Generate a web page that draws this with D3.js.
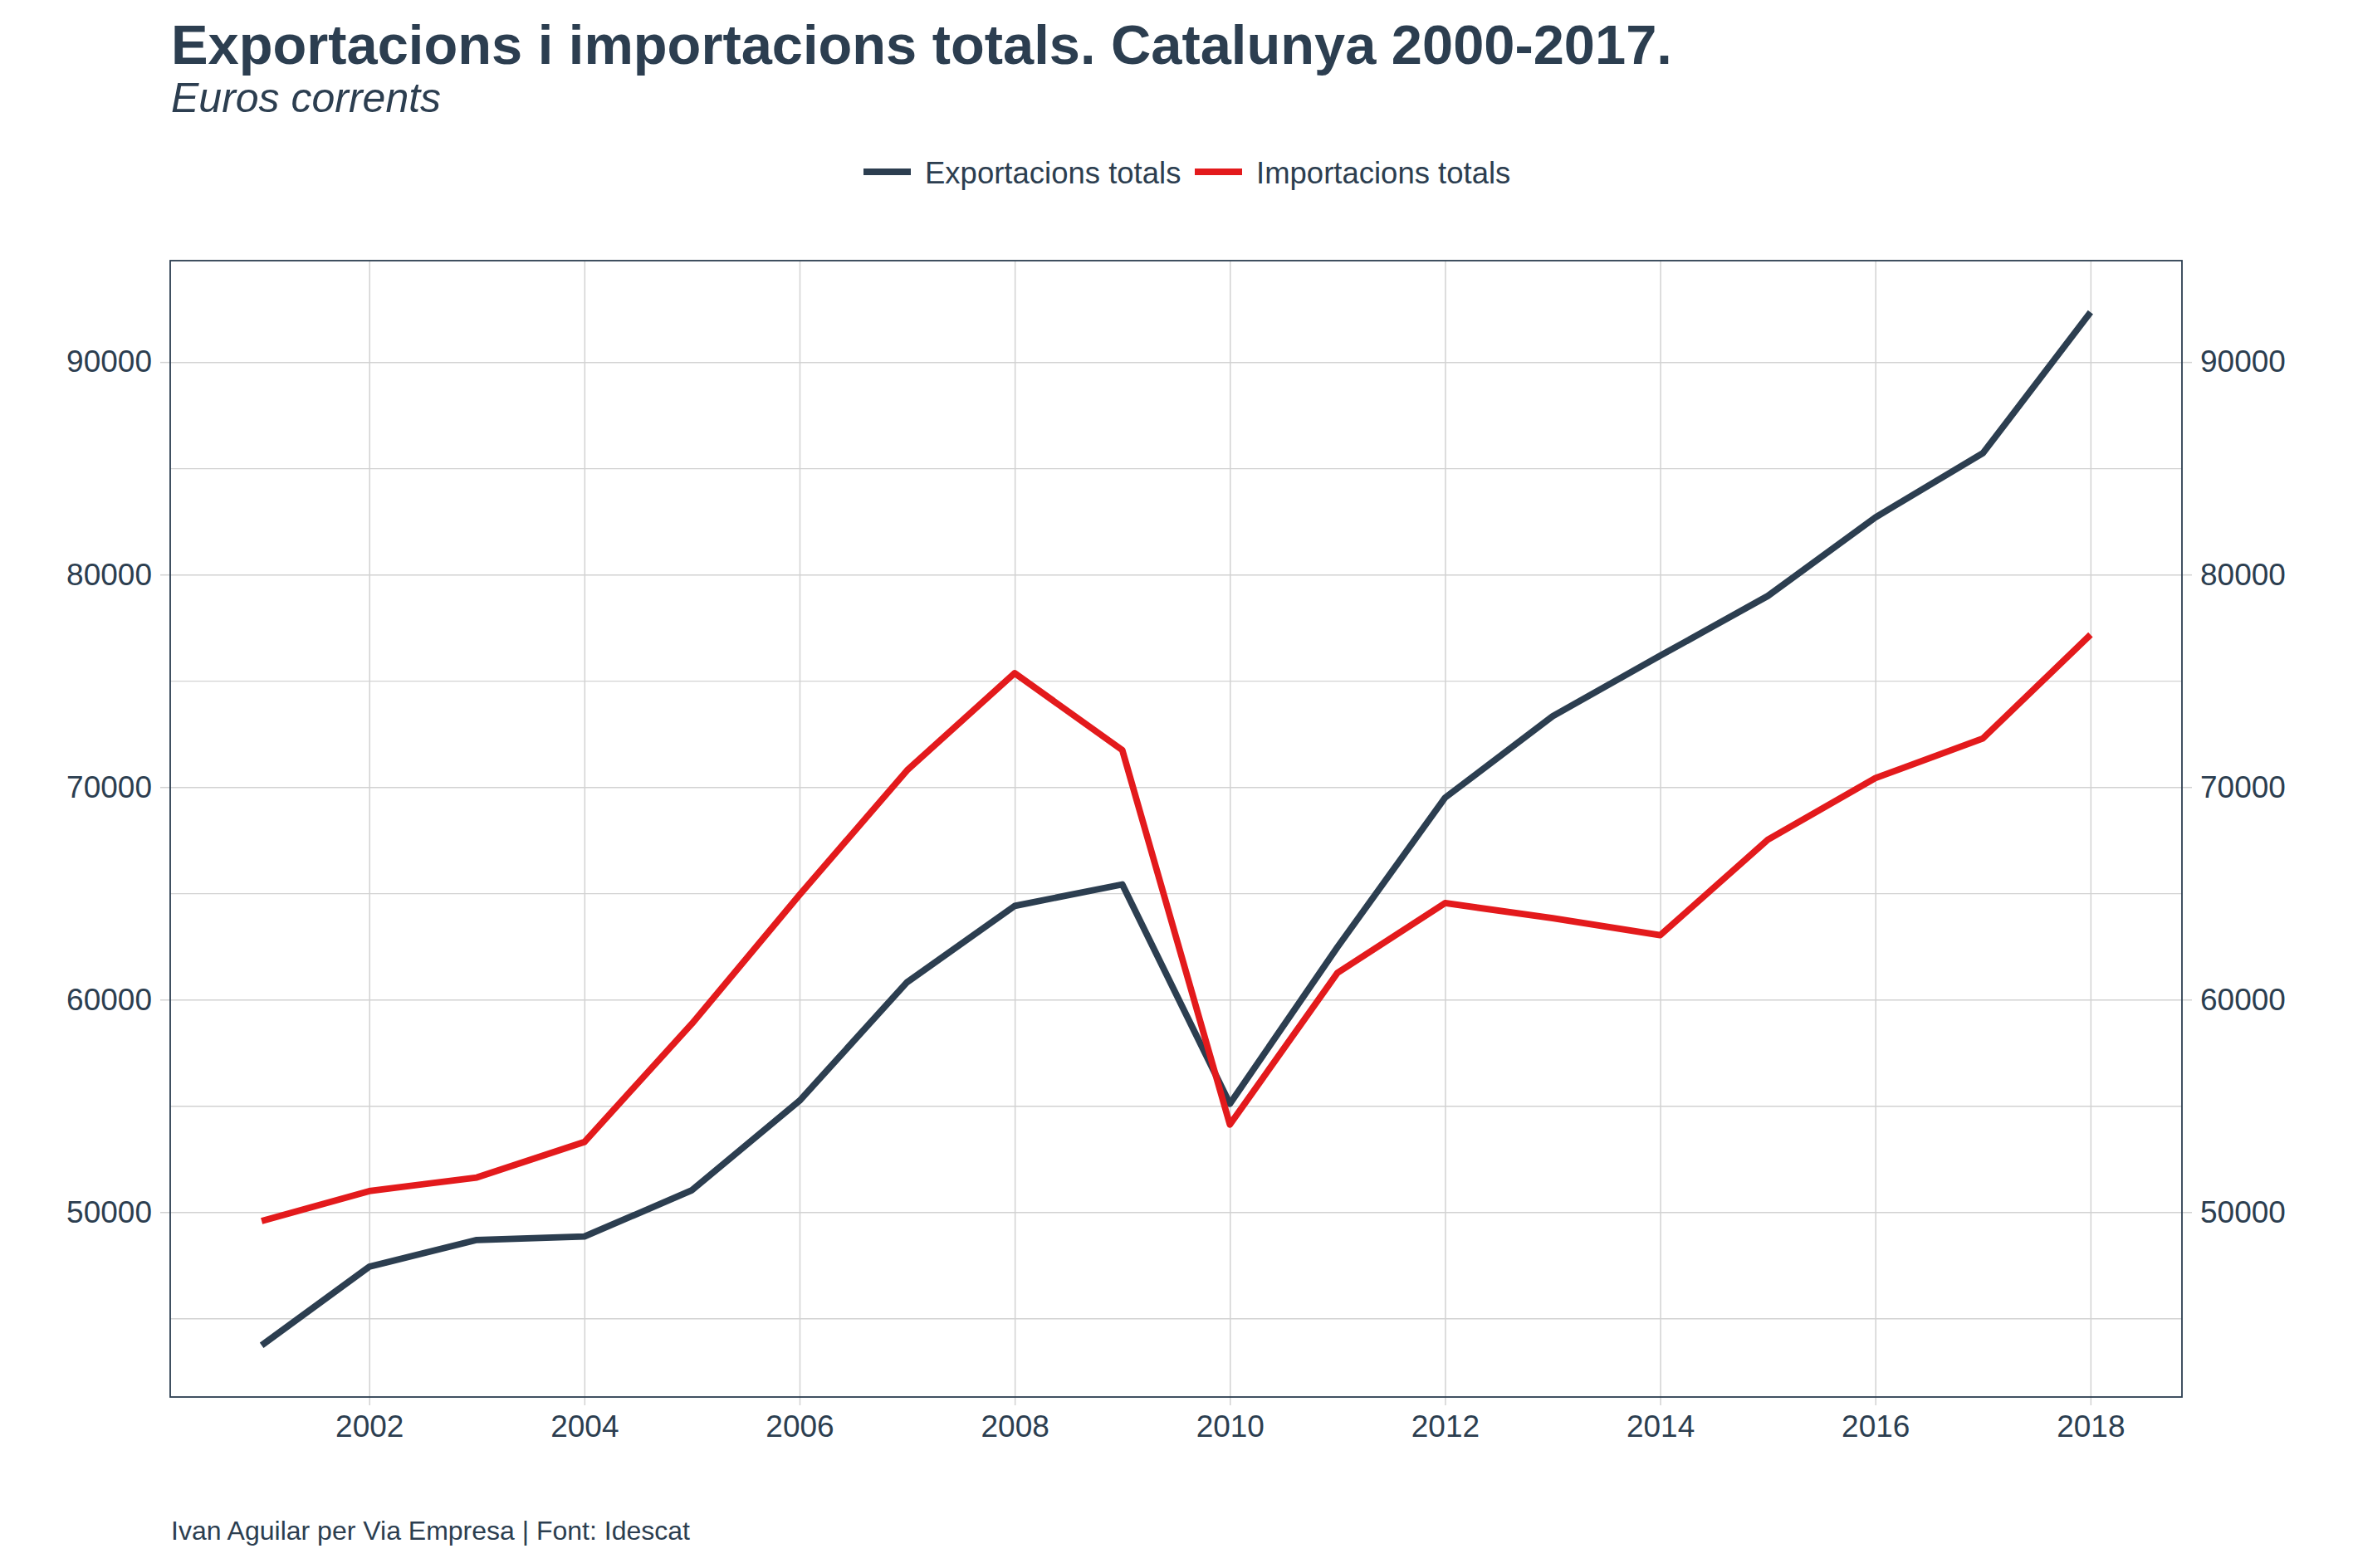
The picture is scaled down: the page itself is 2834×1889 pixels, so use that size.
<!DOCTYPE html>
<html>
<head>
<meta charset="utf-8">
<script src="https://cdn.jsdelivr.net/npm/d3@7"></script>
<style>
  html, body { margin: 0; padding: 0; background: #ffffff; }
  svg { display: block; }
  text { font-family: "Liberation Sans", Arial, Helvetica, sans-serif; fill: #2c3e50; }
</style>
</head>
<body>
<script>
// ---- data ----
const years = [2001, 2002, 2003, 2004, 2005, 2006, 2007, 2008, 2009, 2010, 2011, 2012, 2013, 2014, 2015, 2016, 2017, 2018];
const exportacions = [43730, 47430, 48690, 48850, 51030, 55240, 60820, 64410, 65420, 55100, 62470, 69500, 73330, 76180, 78990, 82690, 85710, 92340];
const importacions = [49580, 50990, 51630, 53300, 58870, 64930, 70790, 75360, 71740, 54120, 61260, 64540, 63830, 63030, 67520, 70420, 72290, 77170];
const seriesNames = ["Exportacions totals", "Importacions totals"];
const seriesColors = ["#2c3e50", "#e31a1c"];
const xTicks = [2002, 2004, 2006, 2008, 2010, 2012, 2014, 2016, 2018];
const yMajorTicks = [50000, 60000, 70000, 80000, 90000];
const yMinorTicks = [45000, 55000, 65000, 75000, 85000];
const titleText = "Exportacions i importacions totals. Catalunya 2000-2017.";
const subtitleText = "Euros corrents";
const captionText = "Ivan Aguilar per Via Empresa | Font: Idescat";

// ---- layout ----
const W = 2834, H = 1889;
const panel = { left: 205, top: 314, right: 2628, bottom: 1683 };
const textColor = "#2c3e50";
const gridColor = "#d2d2d2";

const svg = d3.select("body").append("svg").attr("width", W).attr("height", H);
svg.append("rect").attr("width", W).attr("height", H).attr("fill", "#fff");

// scales with 5% expansion (ggplot style)
const xExt = d3.extent(years);
const xPad = (xExt[1] - xExt[0]) * 0.05;
const x = d3.scaleLinear().domain([xExt[0] - xPad, xExt[1] + xPad]).range([panel.left, panel.right]);
const yExt = d3.extent(exportacions.concat(importacions));
const yPad = (yExt[1] - yExt[0]) * 0.05;
const y = d3.scaleLinear().domain([yExt[0] - yPad, yExt[1] + yPad]).range([panel.bottom, panel.top]);

const pw = panel.right - panel.left, ph = panel.bottom - panel.top;

// minor horizontal grid
svg.append("g").attr("transform", `translate(${panel.left},0)`)
  .call(d3.axisLeft(y).tickValues(yMinorTicks).tickSize(-pw).tickFormat(""))
  .call(g => g.select(".domain").remove())
  .call(g => g.selectAll("line").attr("stroke", gridColor).attr("stroke-width", 1.3));

// major horizontal grid
svg.append("g").attr("transform", `translate(${panel.left},0)`)
  .call(d3.axisLeft(y).tickValues(yMajorTicks).tickSize(-pw).tickFormat(""))
  .call(g => g.select(".domain").remove())
  .call(g => g.selectAll("line").attr("stroke", gridColor).attr("stroke-width", 1.5));

// vertical grid
svg.append("g").attr("transform", `translate(0,${panel.bottom})`)
  .call(d3.axisBottom(x).tickValues(xTicks).tickSize(-ph).tickFormat(""))
  .call(g => g.select(".domain").remove())
  .call(g => g.selectAll("line").attr("stroke", gridColor).attr("stroke-width", 1.5));

// axes with labels
function styleAxis(g) {
  g.select(".domain").remove();
  g.selectAll("line").attr("stroke", gridColor).attr("stroke-width", 1.5);
  g.selectAll("text").attr("fill", textColor).style("font-size", "37px")
    .style("font-family", '"Liberation Sans", Arial, sans-serif');
}
svg.append("g").attr("transform", `translate(${panel.left},0)`)
  .call(d3.axisLeft(y).tickValues(yMajorTicks).tickSize(12).tickPadding(10).tickFormat(d3.format("d")))
  .call(styleAxis);
svg.append("g").attr("transform", `translate(${panel.right},0)`)
  .call(d3.axisRight(y).tickValues(yMajorTicks).tickSize(12).tickPadding(10).tickFormat(d3.format("d")))
  .call(styleAxis);
svg.append("g").attr("transform", `translate(0,${panel.bottom})`)
  .call(d3.axisBottom(x).tickValues(xTicks).tickSize(10).tickPadding(12).tickFormat(d3.format("d")))
  .call(styleAxis);

// panel border
svg.append("rect")
  .attr("x", panel.left).attr("y", panel.top)
  .attr("width", pw).attr("height", ph)
  .attr("fill", "none").attr("stroke", "#2c3e50").attr("stroke-width", 1.8);

// lines
const lineGen = d3.line().x((d, i) => x(years[i])).y(d => y(d));
const allSeries = [exportacions, importacions];
allSeries.forEach((s, k) => {
  svg.append("path").datum(s)
    .attr("d", lineGen)
    .attr("fill", "none")
    .attr("stroke", seriesColors[k])
    .attr("stroke-width", 7.8)
    .attr("stroke-linejoin", "round")
    .attr("stroke-linecap", "butt");
});

// title, subtitle
svg.append("text").attr("x", 206).attr("y", 77)
  .style("font-size", "66.8px").style("font-weight", "bold").text(titleText);
svg.append("text").attr("x", 206).attr("y", 135)
  .style("font-size", "50px").style("font-style", "italic").text(subtitleText);

// legend
const legendX = [1040, 1439];
const legend = svg.append("g");
seriesNames.forEach((name, k) => {
  legend.append("line")
    .attr("x1", legendX[k]).attr("x2", legendX[k] + 57)
    .attr("y1", 207).attr("y2", 207)
    .attr("stroke", seriesColors[k]).attr("stroke-width", 8);
  legend.append("text")
    .attr("x", legendX[k] + 74).attr("y", 221)
    .style("font-size", "36.5px").text(name);
});

// caption
svg.append("text").attr("x", 206).attr("y", 1855)
  .style("font-size", "32px").text(captionText);
</script>
</body>
</html>
